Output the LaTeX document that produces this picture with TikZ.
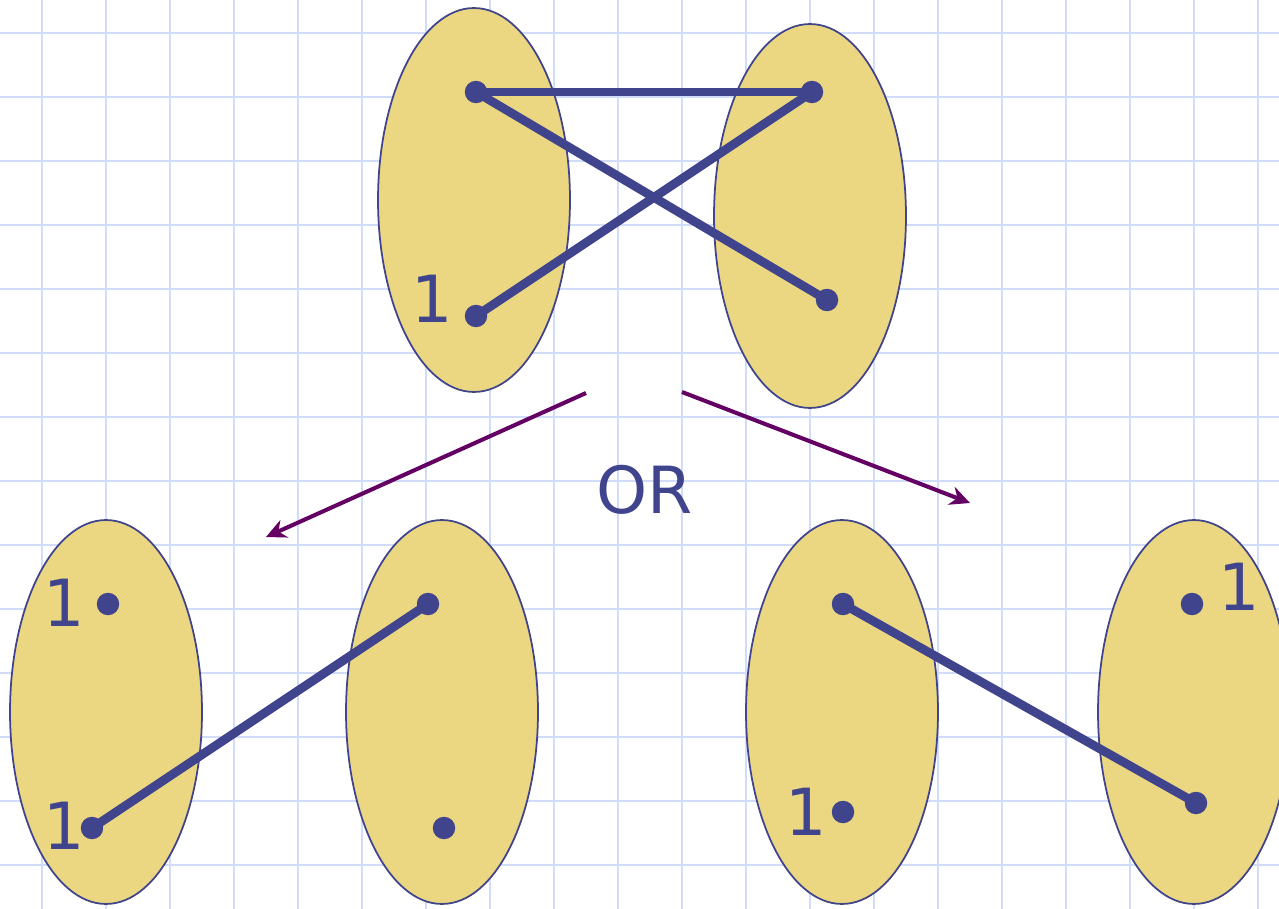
\documentclass[tikz,border=0pt]{standalone}
\usepackage{fontspec}
\usepackage{tikz}
\usetikzlibrary{arrows.meta,calc,positioning,shapes.geometric}
\newfontfamily\orfont{DejaVu Sans}
\definecolor{gridblue}{RGB}{208,220,250}
\definecolor{setfill}{RGB}{235,215,130}
\definecolor{matchblue}{RGB}{64,68,140}
\definecolor{choicepurple}{RGB}{100,0,100}
\tikzset{
  set ellipse/.style={ellipse,draw=matchblue,fill=setfill,line width=1pt,
    minimum width=3.84cm,minimum height=7.68cm,inner sep=0pt},
  match vertex/.style={circle,fill=matchblue,minimum size=0.45cm,inner sep=0pt},
  match edge/.style={matchblue,line width=5pt},
  match label/.style={text=matchblue,inner sep=0pt,
    font=\orfont\fontsize{37}{37}\selectfont},
  choice arrow/.style={-{Stealth[length=0.4cm,width=0.38cm]},
    choicepurple,line width=2.3pt},
  grid line/.style={gridblue,line width=1.1pt}
}
\begin{document}
\begin{tikzpicture}[x=0.02cm,y=-0.02cm]
    \useasboundingbox (0,0) rectangle (1279,909);
    \fill[white] (0,0) rectangle (1279,909);
    % squared paper
    \foreach \gx in {42,106,...,1258}
      \draw[grid line] (\gx,0) -- (\gx,909);
    \foreach \gy in {33,97,...,865}
      \draw[grid line] (0,\gy) -- (1279,\gy);
    % the two sets, before
    \node[set ellipse] (topleft) at (474,200) {};
    \node[set ellipse] (topright) at (810,216) {};
    % the two choices, after
    \node[set ellipse] (leftA) at (106,712) {};
    \node[set ellipse] (leftB) at (442,712) {};
    \node[set ellipse] (rightA) at (842,712) {};
    \node[set ellipse] (rightB) at (1194,712) {};
    % vertices
    \node[match vertex] (tl1) at (476,92) {};
    \node[match vertex] (tl2) at (476,316) {};
    \node[match vertex] (tr1) at (812,92) {};
    \node[match vertex] (tr2) at (827,300) {};
    \node[match vertex] (la1) at (108,604) {};
    \node[match vertex] (la2) at (92,828) {};
    \node[match vertex] (lb1) at (428,604) {};
    \node[match vertex] (lb2) at (444,828) {};
    \node[match vertex] (ra1) at (843,604) {};
    \node[match vertex] (ra2) at (843,812) {};
    \node[match vertex] (rb1) at (1192,604) {};
    \node[match vertex] (rb2) at (1196,803) {};
    % edges
    \draw[match edge] (tl1.center) -- (tr1.center);
    \draw[match edge] (tl1.center) -- (tr2.center);
    \draw[match edge] (tl2.center) -- (tr1.center);
    \draw[match edge] (la2.center) -- (lb1.center);
    \draw[match edge] (ra1.center) -- (rb2.center);
    % labels
    \node[match label] (tl2lab) at (432,299) {1};
    \node[match label] (la1lab) at (64,603) {1};
    \node[match label] (la2lab) at (64,826) {1};
    \node[match label] (ra2lab) at (806,812) {1};
    \node[match label] (rb1lab) at (1239,587) {1};
    % choice
    \coordinate (leftstart) at (586,393);
    \coordinate (leftend) at (266,537);
    \coordinate (rightstart) at (682,392);
    \coordinate (rightend) at (970,503);
    \draw[choice arrow] (leftstart) -- (leftend);
    \draw[choice arrow] (rightstart) -- (rightend);
    \node[text=matchblue,inner sep=0pt,font=\orfont\fontsize{37}{37}\selectfont]
      (ortext) at (645,490) {OR};
\end{tikzpicture}
\end{document}
